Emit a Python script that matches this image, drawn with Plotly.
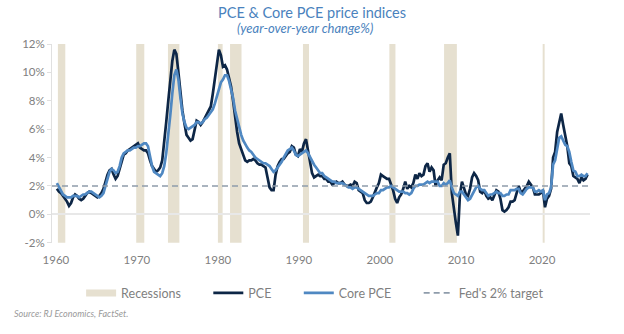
import pandas as pd
import plotly.graph_objects as go

# Quarterly year-over-year % change, starting 1960 Q1
start_quarter = "1960Q1"
pce = [
    1.8, 1.6, 1.5, 1.3,  1.1, 0.9, 0.6, 0.8,  1.2, 1.4, 1.3, 1.1,  1.0, 1.1, 1.3, 1.5,
    1.6, 1.5, 1.4, 1.3,  1.2, 1.3, 1.5, 1.8,  2.4, 2.8, 3.1, 3.2,  2.8, 2.5, 2.7, 3.2,
    3.8, 4.2, 4.3, 4.5,  4.6, 4.7, 4.8, 4.9,  5.0, 4.7, 4.6, 4.5,  4.5, 4.3, 3.8, 3.4,
    3.2, 3.0, 3.1, 3.3,  3.8, 5.0, 6.5, 8.0,  9.5, 10.8, 11.6, 11.3,  10.0, 8.5, 7.3, 6.4,
    5.6, 5.4, 5.2, 5.3,  6.0, 6.6, 6.5, 6.3,  6.5, 6.8, 7.0, 7.3,  7.6, 8.5, 9.6, 10.6,
    11.6, 11.2, 10.4, 10.5,  10.2, 9.6, 9.0, 8.0,  6.8, 5.8, 5.0, 4.6,  4.1, 3.8, 3.7, 3.8,
    3.8, 3.9, 3.8, 3.6,  3.5, 3.5, 3.4, 3.3,  2.6, 1.9, 1.7, 1.7,  2.8, 3.4, 3.7, 3.9,
    3.9, 4.1, 4.3, 4.4,  4.8, 4.7, 4.2, 4.1,  4.6, 4.4, 5.0, 5.3,  4.4, 3.5, 2.9, 2.6,
    2.7, 2.8, 2.7, 2.7,  2.5, 2.5, 2.3, 2.3,  2.1, 2.2, 2.3, 2.2,  2.2, 2.3, 2.1, 2.0,
    2.0, 2.1, 2.0, 2.3,  2.2, 1.7, 1.6, 1.5,  1.0, 0.8, 0.8, 0.9,  1.2, 1.6, 1.9, 2.2,
    2.8, 2.7, 2.6, 2.5,  2.5, 2.1, 1.7, 1.1,  0.8, 1.2, 1.4, 1.8,  2.3, 1.8, 2.0, 1.9,
    2.2, 2.8, 2.5, 2.9,  2.7, 2.8, 3.4, 3.6,  3.0, 3.3, 3.1, 2.0,  2.4, 2.6, 2.4, 3.5,
    3.6, 4.0, 4.3, 1.5,  0.2, -0.6, -1.5, 1.4,  2.3, 1.8, 1.4, 1.3,  1.8, 2.6, 2.9, 2.7,
    2.4, 1.6, 1.5, 1.7,  1.3, 1.1, 1.2, 1.0,  1.3, 1.7, 1.6, 1.1,  0.3, 0.2, 0.3, 0.5,
    0.9, 0.9, 1.0, 1.6,  2.0, 1.6, 1.6, 1.8,  2.0, 2.3, 2.1, 1.9,  1.4, 1.4, 1.4, 1.5,
    1.7, 0.5, 1.1, 1.3,  1.8, 4.0, 4.4, 5.8,  6.6, 7.1, 6.3, 5.6,  4.8, 3.6, 3.4, 2.7,
    2.6, 2.5, 2.2, 2.6,  2.4, 2.5, 2.8,
]
core_pce = [
    2.2, 1.9, 1.6, 1.4,  1.3, 1.2, 1.2, 1.2,  1.3, 1.3, 1.3, 1.2,  1.3, 1.4, 1.4, 1.5,
    1.6, 1.6, 1.5, 1.4,  1.3, 1.2, 1.3, 1.5,  2.0, 2.5, 3.0, 3.2,  3.1, 2.9, 3.0, 3.4,
    4.0, 4.3, 4.4, 4.5,  4.5, 4.6, 4.7, 4.7,  4.8, 4.8, 4.9, 5.0,  5.0, 4.8, 4.1, 3.4,
    3.0, 2.9, 2.8, 2.7,  2.9, 3.4, 4.3, 5.5,  7.0, 8.5, 9.8, 10.2,  9.5, 8.2, 7.1, 6.5,
    6.1, 6.0, 6.1, 6.2,  6.3, 6.5, 6.5, 6.4,  6.5, 6.7, 6.8, 7.0,  7.2, 7.4, 7.8, 8.3,
    8.9, 9.3, 9.5, 9.8,  9.8, 9.4, 8.8, 8.2,  7.3, 6.7, 6.2, 5.6,  5.2, 4.9, 4.7, 4.5,
    4.4, 4.2, 4.0, 3.9,  3.8, 3.7, 3.6, 3.6,  3.5, 3.4, 3.2, 3.0,  3.1, 3.3, 3.5, 3.7,
    4.0, 4.3, 4.5, 4.6,  4.7, 4.5, 4.2, 4.1,  4.2, 4.3, 4.4, 4.5,  4.3, 4.0, 3.7, 3.5,
    3.3, 3.1, 2.9, 2.9,  2.7, 2.6, 2.5, 2.4,  2.3, 2.3, 2.2, 2.2,  2.2, 2.2, 2.1, 2.0,
    1.9, 1.9, 1.8, 1.9,  1.9, 1.8, 1.7, 1.6,  1.5, 1.4, 1.3, 1.3,  1.3, 1.4, 1.5, 1.5,
    1.7, 1.7, 1.8, 1.9,  1.9, 2.0, 1.9, 1.8,  1.7, 1.6, 1.6, 1.6,  1.5, 1.5, 1.4, 1.5,
    1.8, 2.0, 2.0, 2.1,  2.1, 2.1, 2.2, 2.3,  2.2, 2.3, 2.3, 2.3,  2.3, 2.0, 2.0, 2.2,
    2.1, 2.2, 2.4, 1.9,  1.5, 1.4, 1.3, 1.6,  1.6, 1.4, 1.2, 1.0,  1.1, 1.4, 1.7, 1.9,
    2.0, 1.8, 1.7, 1.7,  1.5, 1.3, 1.4, 1.4,  1.5, 1.6, 1.5, 1.5,  1.3, 1.3, 1.4, 1.4,
    1.7, 1.7, 1.7, 1.8,  1.8, 1.5, 1.4, 1.6,  1.8, 1.9, 1.9, 1.9,  1.6, 1.6, 1.7, 1.6,
    1.7, 1.0, 1.4, 1.5,  1.9, 3.5, 3.8, 4.7,  5.4, 5.5, 5.2, 4.9,  4.8, 4.4, 3.7, 3.1,
    3.0, 2.7, 2.7, 2.8,  2.7, 2.7, 2.9,
]
fed_target = 2.0

recessions = [
    ("1960-04-01", "1961-02-28"), ("1969-12-01", "1970-11-30"),
    ("1973-11-01", "1975-03-31"), ("1980-01-01", "1980-07-31"),
    ("1981-07-01", "1982-11-30"), ("1990-07-01", "1991-03-31"),
    ("2001-03-01", "2001-11-30"), ("2007-12-01", "2009-06-30"),
    ("2020-02-01", "2020-04-30"),
]
x_ticks = ["1960", "1970", "1980", "1990", "2000", "2010", "2020"]
y_ticks = [-2, 0, 2, 4, 6, 8, 10, 12]
x_range = ["1959-07-10", "2025-12-05"]

dates = pd.period_range(start_quarter, periods=len(pce), freq="Q").to_timestamp(how="start") + pd.Timedelta(days=45)

FONT = "Lato"
BEIGE = "#e6e0d0"
NAVY = "#0d2646"
BLUE = "#4f88c2"
DASH = "#8e9cab"
PAD = "\u00a0" * 7

fig = go.Figure()
fig.add_trace(go.Scatter(x=[None], y=[None], mode="lines", name="Recessions" + PAD,
                         line=dict(color=BEIGE, width=7)))
fig.add_trace(go.Scatter(x=dates, y=pce, mode="lines", name="PCE" + PAD,
                         line=dict(color=NAVY, width=2.7)))
fig.add_trace(go.Scatter(x=dates, y=core_pce, mode="lines", name="Core PCE" + PAD,
                         line=dict(color=BLUE, width=2.7)))
fig.add_trace(go.Scatter(x=x_range, y=[fed_target, fed_target], mode="lines",
                         name="Fed's 2% target",
                         line=dict(color=DASH, width=1.6, dash="6px,4px")))

for s, e in recessions:
    fig.add_shape(type="rect", xref="x", yref="paper", x0=s, x1=e, y0=0, y1=1,
                  fillcolor=BEIGE, line=dict(width=0), layer="below")

fig.update_layout(
    width=624, height=334,
    margin=dict(l=52, r=34, t=44, b=85),
    paper_bgcolor="white", plot_bgcolor="white",
    font=dict(family=FONT, color="#808080", size=11.5),
    showlegend=True,
    legend=dict(orientation="h", xref="container", yref="container",
                x=0.505, xanchor="center", y=0.122, yanchor="middle",
                font=dict(size=12.5, color="#7f7f7f"), itemwidth=30,
                traceorder="normal"),
    xaxis=dict(type="date", range=x_range, tickvals=x_ticks, ticktext=x_ticks,
               showgrid=False, zeroline=False, showline=False, ticks="",
               ticklabelstandoff=9, tickfont=dict(size=11.5, color="#808080")),
    yaxis=dict(range=[-2, 12], tickvals=y_ticks,
               ticktext=[f"{v}%" for v in y_ticks],
               showgrid=False, zeroline=True, zerolinecolor="#e8e8e8", zerolinewidth=1.5,
               showline=True, linecolor="#e0e0e0", linewidth=1,
               ticks="outside", ticklen=4, tickcolor="#e0e0e0",
               tickfont=dict(size=11.5, color="#808080")),
    annotations=[
        dict(text="PCE & Core PCE price indices", xref="paper", yref="paper",
             x=0.5, y=0, xanchor="center", yanchor="middle", showarrow=False,
             font=dict(family=FONT, size=14.5, color="#4a82bd")),
        dict(text="<i>(year-over-year change%)</i>", xref="paper", yref="paper",
             x=0.5, y=0, xanchor="center", yanchor="middle", showarrow=False,
             font=dict(family=FONT, size=13, color="#4a82bd")),
        dict(text="<i>Source: RJ Economics, FactSet.</i>", xref="paper", yref="paper",
             x=0, y=0, xanchor="left", yanchor="middle", showarrow=False,
             font=dict(family=FONT, size=9, color="#9a9a9a")),
    ],
)
# position annotations in container pixels via paper fractions
ph = 334 - 44 - 85
pw = 624 - 52 - 34
def py(pix):
    return (334 - 85 - pix) / ph
def px(pix):
    return (pix - 52) / pw
fig.layout.annotations[0].update(y=py(12), x=px(312))
fig.layout.annotations[1].update(y=py(28), x=px(305))
fig.layout.annotations[2].update(y=py(322), x=px(12))

fig.write_html("out.html")
